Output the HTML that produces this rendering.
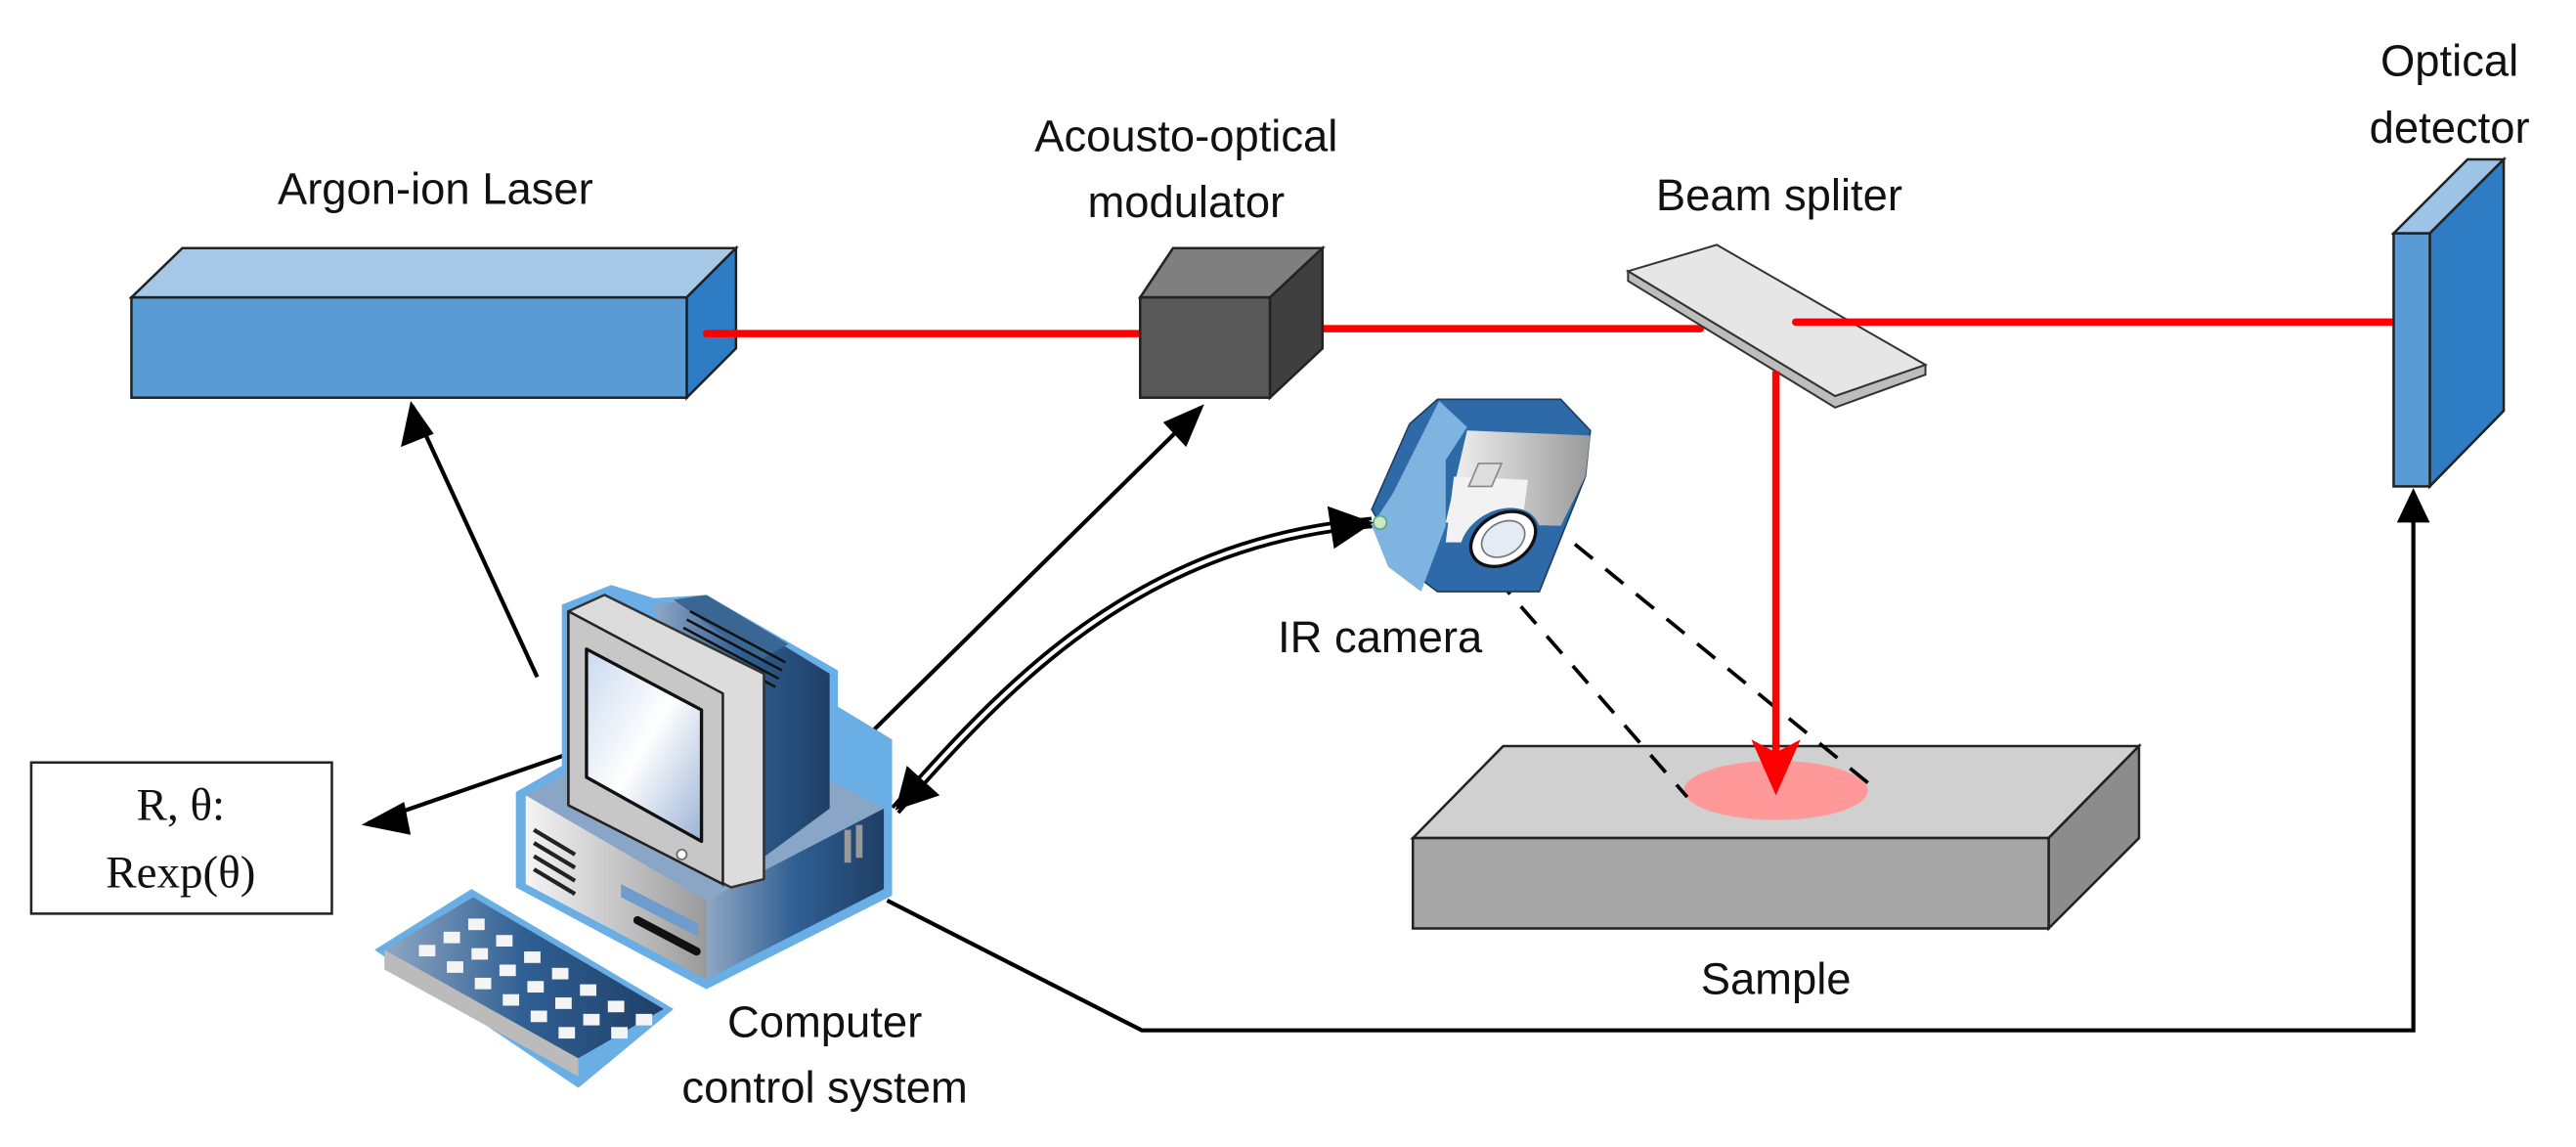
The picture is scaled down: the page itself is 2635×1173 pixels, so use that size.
<!DOCTYPE html>
<html><head><meta charset="utf-8"><style>
html,body{margin:0;padding:0;background:#fff}
svg{display:block}
text{font-family:"Liberation Sans",sans-serif;fill:#111}
</style></head><body>
<svg width="2635" height="1173" viewBox="0 0 1568 698" preserveAspectRatio="none" xmlns="http://www.w3.org/2000/svg">
<defs>
<linearGradient id="scr" x1="0" y1="0" x2="1" y2="1"><stop offset="0" stop-color="#c9d9ef"/><stop offset="0.5" stop-color="#ffffff"/><stop offset="1" stop-color="#9bb3d6"/></linearGradient>
<linearGradient id="bl" x1="0" y1="0" x2="1" y2="0"><stop offset="0" stop-color="#8fa7c4"/><stop offset="0.5" stop-color="#2f5f93"/><stop offset="1" stop-color="#1f3f66"/></linearGradient>
<linearGradient id="gr" x1="0" y1="0" x2="1" y2="0"><stop offset="0" stop-color="#f4f4f4"/><stop offset="1" stop-color="#9a9a9a"/></linearGradient>
</defs>

<polygon points="80,181 111,151 448,151 418,181" fill="#a6c8e8" stroke="#222" stroke-width="1.5"/>
<polygon points="418,181 448,151 448,212 418,242" fill="#2e7cc4" stroke="#222" stroke-width="1.5"/>
<rect x="80" y="181" width="338" height="61" fill="#5b9bd5" stroke="#222" stroke-width="1.5"/>
<text x="265" y="124" font-size="27" text-anchor="middle">Argon-ion Laser</text>

<line x1="430" y1="203" x2="694" y2="203" stroke="#f00" stroke-width="4.5" stroke-linecap="round"/>
<line x1="793" y1="200" x2="1035" y2="200" stroke="#f00" stroke-width="4.5" stroke-linecap="round"/>

<polygon points="694,181 714,151 805,151 773,181" fill="#7f7f7f" stroke="#222" stroke-width="1.5"/>
<polygon points="773,181 805,151 805,212 773,242" fill="#3f3f3f" stroke="#222" stroke-width="1.5"/>
<rect x="694" y="181" width="79" height="61" fill="#595959" stroke="#222" stroke-width="1.5"/>
<text x="722" y="92" font-size="27" text-anchor="middle">Acousto-optical</text>
<text x="722" y="132" font-size="27" text-anchor="middle">modulator</text>

<polygon points="991,165 991,171 1117,248 1172,228 1172,222 1117,241" fill="#bdbdbd" stroke="#333" stroke-width="1.2"/>
<polygon points="991,165 1045,149 1172,222 1117,241" fill="#e6e6e6" stroke="#333" stroke-width="1.2"/>
<text x="1083" y="128" font-size="27" text-anchor="middle">Beam spliter</text>
<line x1="1093" y1="196" x2="1457" y2="196" stroke="#f00" stroke-width="4.5" stroke-linecap="round"/>

<polygon points="1457,142 1479,142 1524,97 1502,97" fill="#9dc3e6" stroke="#222" stroke-width="1.5"/>
<polygon points="1479,142 1524,97 1524,250 1479,296" fill="#2e7cc4" stroke="#222" stroke-width="1.5"/>
<rect x="1457" y="142" width="22" height="154" fill="#5b9bd5" stroke="#222" stroke-width="1.5"/>
<text x="1491" y="46" font-size="27" text-anchor="middle">Optical</text>
<text x="1491" y="87" font-size="27" text-anchor="middle">detector</text>

<polygon points="915,454 1302,454 1247,510 860,510" fill="#d0d0d0" stroke="#222" stroke-width="1.5"/>
<polygon points="1247,510 1302,454 1302,510 1247,565" fill="#8c8c8c" stroke="#222" stroke-width="1.5"/>
<rect x="860" y="510" width="387" height="55" fill="#a6a6a6" stroke="#222" stroke-width="1.5"/>
<ellipse cx="1081" cy="481" rx="56" ry="18" fill="#ff9999"/>
<text x="1081" y="605" font-size="27" text-anchor="middle">Sample</text>

<line x1="940" y1="316" x2="1139" y2="478" stroke="#000" stroke-width="2.2" stroke-dasharray="14,10"/>
<line x1="910" y1="351" x2="1027" y2="485" stroke="#000" stroke-width="2.2" stroke-dasharray="14,10"/>

<line x1="1081" y1="226" x2="1081" y2="462" stroke="#f00" stroke-width="4.5"/>
<polygon points="1066,450 1081,458 1096,450 1081,484" fill="#f00"/>

<!-- IR camera -->
<polygon points="875,243 950,243 968,262 965,290 937,360 875,360 855,345 835,310 858,258" fill="#2f6aa8" stroke="#1d3f66" stroke-width="1"/>
<polygon points="876,244 848,300 835,320 845,345 865,360 880,320 880,280 893,260" fill="#7fb3e0"/>
<polygon points="893,262 968,265 965,290 950,320 880,318" fill="url(#gr)"/>
<polygon points="885,290 930,292 925,330 880,330" fill="#f2f2f2"/>
<polygon points="900,282 914,282 908,296 894,296" fill="#ddd" stroke="#888"/>
<ellipse cx="913" cy="330" rx="26" ry="19" fill="#2f6aa8" transform="rotate(-30 913 330)"/>
<ellipse cx="915" cy="328" rx="21" ry="15" fill="#fff" stroke="#111" stroke-width="2" transform="rotate(-30 915 328)"/>
<ellipse cx="915" cy="328" rx="14" ry="10" fill="#e4ebf5" stroke="#777" transform="rotate(-30 915 328)"/>
<circle cx="840" cy="318" r="4" fill="#cfe8c0" stroke="#5a8"/>
<text x="840" y="397" font-size="27" text-anchor="middle">IR camera</text>

<path d="M545,493 C610,420 690,330 835,318" fill="none" stroke="#000" stroke-width="7"/>
<path d="M545,493 C610,420 690,330 835,318" fill="none" stroke="#fff" stroke-width="2.5"/>
<polygon points="545,493 552,466 572,484" fill="#000"/>
<polygon points="836,318 808,308 812,334" fill="#000"/>

<line x1="327" y1="412" x2="251" y2="247" stroke="#000" stroke-width="2.5"/>
<polygon points="250,244 244,272 264,264" fill="#000"/>
<line x1="528" y1="448" x2="731" y2="248" stroke="#000" stroke-width="2.5"/>
<polygon points="733,246 708,257 722,272" fill="#000"/>
<line x1="380" y1="447" x2="224" y2="501" stroke="#000" stroke-width="2.5"/>
<polygon points="220,502 246,488 250,508" fill="#000"/>

<polyline points="540,548 695,627 1469,627 1469,306" fill="none" stroke="#000" stroke-width="2.5"/>
<polygon points="1469,297 1459,318 1479,318" fill="#000"/>

<rect x="19" y="464" width="183" height="92" fill="#fff" stroke="#222" stroke-width="1.5"/>
<text x="110" y="499" font-size="28" text-anchor="middle" style="font-family:'Liberation Serif',serif">R, θ:</text>
<text x="110" y="540" font-size="28" text-anchor="middle" style="font-family:'Liberation Serif',serif">Rexp(θ)</text>

<g stroke-linejoin="round">
<polygon points="314,482 342,466 342,368 372,356 398,364 430,362 510,408 510,430 543,450 543,545 430,602 314,540" fill="#6aaee6"/>
<polygon points="320,484 420,430 538,492 430,548" fill="#8aa6c6"/>
<polygon points="320,484 430,548 430,596 320,538" fill="url(#gr)"/>
<polygon points="430,548 538,492 538,541 430,596" fill="url(#bl)"/>
<g stroke="#222" stroke-width="2.5">
<line x1="325" y1="505" x2="350" y2="520"/><line x1="325" y1="513" x2="350" y2="528"/><line x1="325" y1="521" x2="350" y2="536"/><line x1="325" y1="529" x2="350" y2="544"/>
</g>
<polygon points="378,538 425,562 425,570 378,546" fill="#6f9ccc"/>
<line x1="388" y1="560" x2="424" y2="579" stroke="#111" stroke-width="5" stroke-linecap="round"/>
<rect x="514" y="505" width="4" height="20" fill="#999"/><rect x="521" y="502" width="4" height="20" fill="#999"/>
<polygon points="398,368 430,364 505,410 505,492 440,540" fill="url(#bl)"/>
<polygon points="410,365 430,362 480,392 462,402" fill="#3a6694"/>
<g stroke="#111" stroke-width="1.5">
<line x1="420" y1="372" x2="478" y2="403"/><line x1="418" y1="377" x2="476" y2="408"/><line x1="416" y1="382" x2="474" y2="413"/><line x1="414" y1="387" x2="472" y2="418"/>
</g>
<polygon points="346,372 368,362 465,410 465,535 445,540 346,490" fill="#dcdcdc" stroke="#333" stroke-width="1.5"/>
<polygon points="346,372 440,422 440,538 346,490" fill="#c7c7c7" stroke="#222" stroke-width="1.5"/>
<polygon points="357,395 427,432 427,512 357,473" fill="url(#scr)" stroke="#111" stroke-width="2"/>
<circle cx="415" cy="520" r="3" fill="#fff" stroke="#666"/>
<polygon points="228,578 287,541 410,614 352,662" fill="#6aaee6"/>
<polygon points="234,590 352,655 352,642 234,578" fill="#bbb"/>
<polygon points="234,578 288,546 404,614 352,644" fill="url(#bl)"/>
</g>
<g fill="#f4f4f4">
<rect x="255" y="575" width="10" height="7"/><rect x="270" y="567" width="10" height="7"/><rect x="285" y="559" width="10" height="7"/>
<rect x="272" y="585" width="10" height="7"/><rect x="287" y="577" width="10" height="7"/><rect x="302" y="569" width="10" height="7"/>
<rect x="289" y="595" width="10" height="7"/><rect x="304" y="587" width="10" height="7"/><rect x="319" y="579" width="10" height="7"/>
<rect x="306" y="605" width="10" height="7"/><rect x="321" y="597" width="10" height="7"/><rect x="336" y="589" width="10" height="7"/>
<rect x="323" y="615" width="10" height="7"/><rect x="338" y="607" width="10" height="7"/><rect x="353" y="599" width="10" height="7"/>
<rect x="340" y="625" width="10" height="7"/><rect x="355" y="617" width="10" height="7"/><rect x="370" y="609" width="10" height="7"/>
<rect x="372" y="625" width="10" height="7"/><rect x="387" y="617" width="10" height="7"/>
</g>
<text x="502" y="631" font-size="27" text-anchor="middle">Computer</text>
<text x="502" y="671" font-size="27" text-anchor="middle">control system</text>
</svg>
</body></html>
